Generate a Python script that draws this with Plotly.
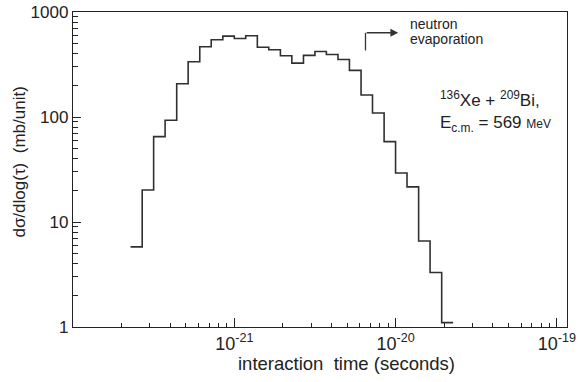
import plotly.graph_objects as go

# Bin edges, log10(interaction time / s)
log_edges = [-21.643, -21.571, -21.500, -21.429, -21.357, -21.286, -21.214, -21.143,
             -21.071, -21.000, -20.929, -20.857, -20.786, -20.714, -20.643, -20.571,
             -20.500, -20.429, -20.357, -20.286, -20.214, -20.143, -20.071, -20.000,
             -19.929, -19.857, -19.786, -19.714, -19.643]
# dsigma/dlog(tau) (mb/unit), one per bin
dsigma = [5.8, 20.2, 65, 93, 207, 336, 467, 544, 589, 559, 594, 462, 437, 383,
          326, 386, 421, 394, 353, 278, 162, 109, 58.3, 29.3, 21.6, 6.6, 3.3, 1.1]

x_major = [1e-21, 1e-20, 1e-19]
x_major_text = ["10<sup>-21</sup>", "10<sup>-20</sup>", "10<sup>-19</sup>"]
x_minor = [m * 10.0 ** d for d in (-22, -21, -20, -19) for m in range(2, 10)]
y_major = [1, 10, 100, 1000]
y_major_text = ["1", "10", "100", "1000"]
y_minor = [m * 10.0 ** d for d in (0, 1, 2) for m in range(2, 10)]

FONT = "Liberation Sans, Arial, sans-serif"
AX = "#222222"

xs = [10.0 ** e for e in log_edges]
ys = dsigma + [dsigma[-1]]

fig = go.Figure()
fig.add_trace(go.Scatter(x=xs, y=ys, mode="lines", line_shape="hv",
                         line=dict(color="#303030", width=1.6),
                         hoverinfo="skip", showlegend=False))

# plot box in pixels: left 72.7, right 576, top 11.5, bottom 327
L, R, T, B = 72.7, 576.0, 11.5, 327.0
W, H = R - L, B - T
def px(x):
    return (x - L) / W
def py(y):
    return (B - y) / H

fig.update_layout(
    width=579, height=382,
    margin=dict(l=L, r=579 - R, t=T, b=382 - B, pad=0),
    paper_bgcolor="white", plot_bgcolor="white",
    font=dict(family=FONT, color="#222222", size=16),
    showlegend=False,
    xaxis=dict(type="log", range=[-22, -18.937], showgrid=False, zeroline=False,
               showline=True, linecolor=AX, linewidth=1.3, mirror=True,
               ticks="inside", ticklen=9, tickwidth=1.1, tickcolor=AX,
               tickmode="array", tickvals=x_major, ticktext=x_major_text,
               ticklabeloverflow="allow",
               tickfont=dict(size=18, family=FONT, color="#222"),
               minor=dict(ticks="inside", ticklen=4, tickwidth=1.0, tickcolor=AX,
                          tickmode="array", tickvals=x_minor, showgrid=False)),
    yaxis=dict(type="log", range=[0, 3], showgrid=False, zeroline=False,
               showline=True, linecolor=AX, linewidth=1.3, mirror=True,
               ticks="inside", ticklen=8, tickwidth=1.1, tickcolor=AX,
               tickmode="array", tickvals=y_major, ticktext=y_major_text,
               ticklabeloverflow="allow",
               tickfont=dict(size=17, family=FONT, color="#222"),
               minor=dict(ticks="inside", ticklen=5, tickwidth=1.0, tickcolor=AX,
                          tickmode="array", tickvals=y_minor, showgrid=False)),
)

ann = []
# axis titles
ann.append(dict(text="interaction  time (seconds)", xref="paper", yref="paper",
                x=px(351), y=py(364), xanchor="center", yanchor="middle",
                showarrow=False, font=dict(size=18.5, family=FONT, color="#222")))
ann.append(dict(text="dσ/dlog(τ)  (mb/unit)", xref="paper", yref="paper",
                x=px(18), y=py(162), xanchor="center", yanchor="middle", textangle=-90,
                showarrow=False, font=dict(size=17, family=FONT, color="#222")))
# neutron evaporation label + arrow
ann.append(dict(text="neutron", xref="paper", yref="paper", x=px(414), y=py(23.5),
                xanchor="left", yanchor="middle", showarrow=False,
                font=dict(size=14, family=FONT, color="#222")))
ann.append(dict(text="evaporation", xref="paper", yref="paper", x=px(414), y=py(38.5),
                xanchor="left", yanchor="middle", showarrow=False,
                font=dict(size=14, family=FONT, color="#222")))
ann.append(dict(text="", xref="paper", yref="paper", x=px(404), y=py(32.3),
                ax=-33, ay=0, showarrow=True, arrowhead=2, arrowsize=1.2,
                arrowwidth=1.3, arrowcolor="#333"))
# reaction text
ann.append(dict(text="<sup>136</sup>Xe + <sup>209</sup>Bi,", xref="paper", yref="paper",
                x=px(445), y=py(99), xanchor="left", yanchor="middle", showarrow=False,
                font=dict(size=17, family=FONT, color="#222")))
ann.append(dict(text="E<sub>c.m.</sub> = 569 <span style='font-size:12px'>MeV</span>",
                xref="paper", yref="paper",
                x=px(445), y=py(124), xanchor="left", yanchor="middle", showarrow=False,
                font=dict(size=17, family=FONT, color="#222")))
fig.update_layout(annotations=ann)

fig.add_shape(type="line", xref="paper", yref="paper", x0=px(370.7), x1=px(370.7),
              y0=py(50), y1=py(32.3), line=dict(color="#333", width=1.3))

fig.write_html("out.html")
